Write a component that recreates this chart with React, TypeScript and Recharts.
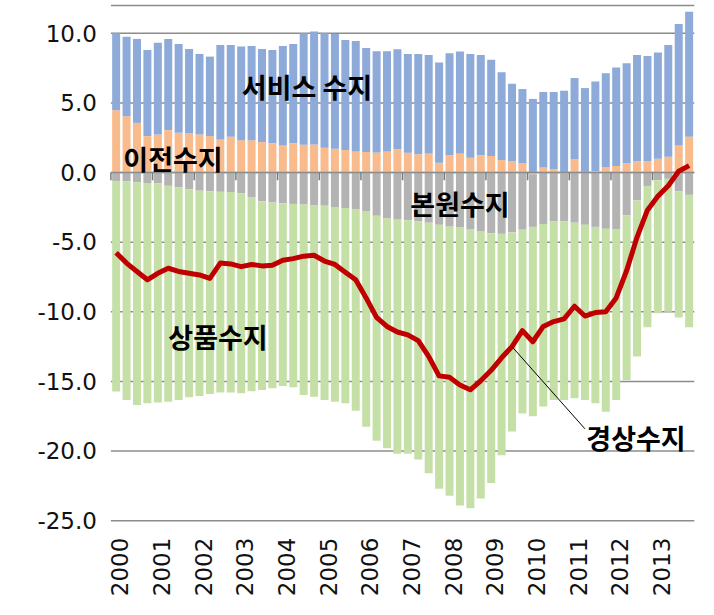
import { ComposedChart, Bar, Line, XAxis, YAxis, CartesianGrid, ReferenceLine } from "recharts";

// quarterly, 2000Q1 .. 2013Q4
const years = ["2000", "2001", "2002", "2003", "2004", "2005", "2006", "2007", "2008", "2009", "2010", "2011", "2012", "2013"];
const quarters = years.flatMap((y) => [y + "Q1", y + "Q2", y + "Q3", y + "Q4"]);

// 이전수지
const transfer = [
  4.48, 4.05, 3.57, 2.62, 2.74, 3.05, 2.86, 2.8, 2.74, 2.62, 2.38, 2.57, 2.33, 2.33, 2.19, 2.1,
  1.95, 2.1, 2.0, 2.02, 1.79, 1.71, 1.62, 1.52, 1.48, 1.45, 1.52, 1.67, 1.43, 1.31, 1.38, 0.71,
  1.24, 1.38, 1.07, 1.24, 1.19, 0.9, 0.83, 0.67, -0.12, 0.36, 0.24, -0.05, 0.95, 0.05, 0.12, 0.36,
  0.48, 0.67, 0.83, 0.83, 1.0, 1.14, 1.95, 2.57,
];
// 서비스 수지
const services = [
  5.52, 5.71, 6.03, 6.18, 6.59, 6.55, 6.38, 6.08, 5.78, 5.71, 6.79, 6.6, 6.72, 6.77, 6.69, 6.7,
  7.15, 7.14, 8.0, 8.12, 8.21, 8.24, 7.9, 7.93, 7.47, 7.27, 7.2, 7.19, 7.09, 7.21, 7.07, 7.19,
  7.33, 7.31, 7.45, 7.21, 6.91, 6.31, 5.55, 5.33, 5.29, 5.43, 5.55, 5.88, 5.84, 6.02, 6.43, 6.78,
  7.07, 7.19, 7.62, 7.55, 7.62, 8.03, 8.72, 8.98,
];
// 본원수지
const primary = [
  -0.6, -0.62, -0.7, -0.75, -0.78, -0.95, -1.05, -1.2, -1.3, -1.35, -1.38, -1.4, -1.5, -1.75, -2.05, -2.15,
  -2.2, -2.25, -2.3, -2.33, -2.38, -2.48, -2.55, -2.62, -2.8, -3.1, -3.3, -3.38, -3.42, -3.5, -3.6, -3.75,
  -3.88, -3.95, -4.05, -4.2, -4.35, -4.4, -4.3, -4.1, -3.78, -3.7, -3.5, -3.45, -3.6, -3.75, -3.9, -4.04,
  -4.05, -3.08, -2.0, -0.96, -0.55, -0.45, -1.35, -1.6,
];
// 상품수지
const goods = [
  -15.13, -15.71, -15.99, -15.82, -15.74, -15.5, -15.28, -14.94, -14.74, -14.55, -14.42, -14.4, -14.35, -13.95, -13.56, -13.34,
  -13.13, -13.17, -13.67, -13.76, -13.95, -13.97, -14.02, -14.48, -15.45, -16.15, -16.5, -16.82, -16.78, -17.1, -18.0, -18.95,
  -19.32, -19.95, -20.05, -19.2, -17.95, -15.9, -14.3, -13.2, -13.6, -13.1, -12.83, -12.83, -12.6, -12.58, -12.67, -13.13,
  -12.28, -11.82, -11.2, -10.14, -9.55, -9.55, -9.05, -9.5,
];
// 경상수지
const current = [
  -5.75, -6.5, -7.1, -7.7, -7.23, -6.87, -7.1, -7.23, -7.35, -7.6, -6.5, -6.56, -6.75, -6.6, -6.7, -6.65,
  -6.3, -6.18, -6.0, -5.94, -6.35, -6.6, -7.15, -7.7, -9.0, -10.4, -11.05, -11.45, -11.65, -12.07, -13.2, -14.6,
  -14.7, -15.25, -15.6, -14.95, -14.2, -13.3, -12.5, -11.35, -12.15, -11.05, -10.7, -10.5, -9.6, -10.3, -10.05, -10.0,
  -9.0, -7.05, -4.65, -2.7, -1.7, -0.95, 0.1, 0.5,
];

const yTicks = [-25, -20, -15, -10, -5, 0, 5, 10];

const data = quarters.map((q, i) => ({
  q,
  transfer: transfer[i],
  services: services[i],
  primary: primary[i],
  goods: goods[i],
  current: current[i],
}));

const yearStarts = quarters.filter((_, i) => i % 4 === 0);

const tickFont = "'DejaVu Sans', sans-serif";
const labelFont = "'Noto Sans CJK KR', sans-serif";

const YearTick = ({ x, y, payload }: any) => (
  <g transform={`translate(${x + 4},${y + 17}) rotate(-90)`}>
    <text textAnchor="end" dy="0.36em" fontSize={23} fontFamily={tickFont} fill="#111">
      {String(payload.value).slice(0, 4)}
    </text>
  </g>
);

const labels = [
  { text: "서비스 수지", x: 307, y: 86 },
  { text: "이전수지", x: 173, y: 158 },
  { text: "본원수지", x: 460, y: 203 },
  { text: "상품수지", x: 218, y: 336 },
  { text: "경상수지", x: 636, y: 437 },
];

export default function App() {
  return (
    <div style={{ position: "absolute", left: 0, top: 0, width: 714, height: 615, background: "#fff" }}>
      <ComposedChart
        width={714}
        height={615}
        data={data}
        stackOffset="sign"
        barCategoryGap="12%"
        margin={{ top: 5.5, right: 19.7, left: 0, bottom: 4.3 }}
      >
        <CartesianGrid vertical={false} stroke="#8c8c8c" strokeWidth={1.5} />
        <XAxis
          dataKey="q"
          interval={3}
          tickLine={false}
          axisLine={false}
          tickSize={0}
          tickMargin={0}
          height={90}
          tick={<YearTick />}
        />
        <YAxis
          domain={[-25, 12]}
          ticks={yTicks}
          width={110.9}
          axisLine={false}
          tickLine={false}
          tickSize={0}
          tickMargin={14}
          tickFormatter={(v: number) => v.toFixed(1)}
          tick={{ fontSize: 23, fontFamily: tickFont, fill: "#111" }}
        />
        <Bar dataKey="transfer" stackId="a" fill="#F9BA8C" isAnimationActive={false} />
        <Bar dataKey="services" stackId="a" fill="#8DAAD9" isAnimationActive={false} />
        <Bar dataKey="primary" stackId="a" fill="#B3B3B3" isAnimationActive={false} />
        <Bar dataKey="goods" stackId="a" fill="#C5E0A7" isAnimationActive={false} />
        <ReferenceLine y={0} stroke="#8c8c8c" strokeWidth={1.5} />
        {yearStarts.map((q) => (
          <ReferenceLine
            key={q}
            segment={[{ x: q, y: 0 }, { x: q, y: -0.55 }]}
            position="start"
            stroke="#7a7a7a"
            strokeWidth={1.5}
          />
        ))}
        <Line
          dataKey="current"
          type="linear"
          stroke="#C00000"
          strokeWidth={5}
          strokeLinejoin="round"
          dot={false}
          activeDot={false}
          isAnimationActive={false}
        />
        <ReferenceLine
          segment={[{ x: quarters[38], y: -12.5 }, { x: quarters[45], y: -18.4 }]}
          stroke="#000"
          strokeWidth={1}
        />
      </ComposedChart>
      {labels.map((l) => (
        <div
          key={l.text}
          style={{
            position: "absolute",
            left: l.x,
            top: l.y,
            transform: "translate(-50%, -50%)",
            fontFamily: labelFont,
            fontWeight: 700,
            fontSize: 27,
            lineHeight: 1,
            whiteSpace: "nowrap",
            color: "#000",
          }}
        >
          {l.text}
        </div>
      ))}
    </div>
  );
}
